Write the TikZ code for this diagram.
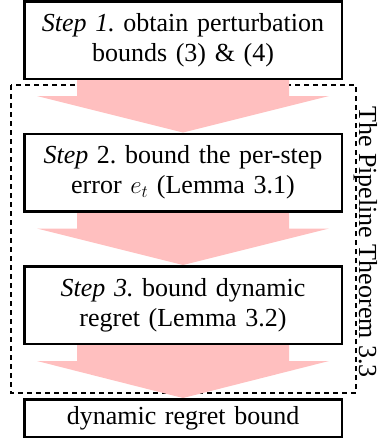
\documentclass[tikz,border=0pt]{standalone}
\usepackage{fontspec}
\setmainfont{Liberation Serif}[UprightFont=*, ItalicFont=* Italic, BoldFont=* Bold]
\newfontfamily\timesf{Liberation Serif}
\frenchspacing
\usetikzlibrary{calc,backgrounds}
\definecolor{flowpink}{RGB}{255,191,191}
\tikzset{
  stepbox/.style={draw=black, line width=2.5pt, fill=white, minimum width=317.5pt,
    minimum height=77.5pt, text width=300pt, align=center, inner sep=0pt,
    font=\timesf\frenchspacing\fontsize{26}{30}\selectfont},
  flow/.style={fill=flowpink},
  group/.style={draw=black, line width=1.2pt, dash pattern=on 5pt off 4pt},
}
\begin{document}
\begin{tikzpicture}[x=1pt,y=-1pt]
\useasboundingbox (0,0) rectangle (388,442);
\node[stepbox] (s1) at (183,40) {\textit{Step 1.} obtain perturbation\\ bounds (3) \& (4)};
\node[stepbox] (s2) at (183,172.5) {\textit{Step} 2. bound the per-step\\ error $e_t$ (Lemma 3.1)};
\node[stepbox] (s3) at (183,305) {\textit{Step 3.} bound dynamic\\ regret (Lemma 3.2)};
\node[stepbox, minimum height=37.5pt] (s4) at (183,418) {dynamic regret bound};
\coordinate (g1) at (11,85);
\coordinate (g2) at (356,393);
\node[rotate=-90, anchor=base, font=\timesf\fontsize{26}{30}\selectfont] (lbl) at (359,242) {The Pipeline Theorem 3.3};
\begin{pgfonlayer}{background}
\draw[group] (g1) rectangle (g2);
\foreach \a/\b in {s1/s2, s2/s3, s3/s4}{
  \fill[flow] ($(\a.south)+(-106,0)$) -- ($(\a.south)+(106,0)$) -- ($(\a.south)+(106,16)$)
    -- ($(\a.south)+(146,16)$) -- (\b.north) -- ($(\a.south)+(-146,16)$)
    -- ($(\a.south)+(-106,16)$) -- cycle;
}
\end{pgfonlayer}
\end{tikzpicture}
\end{document}
